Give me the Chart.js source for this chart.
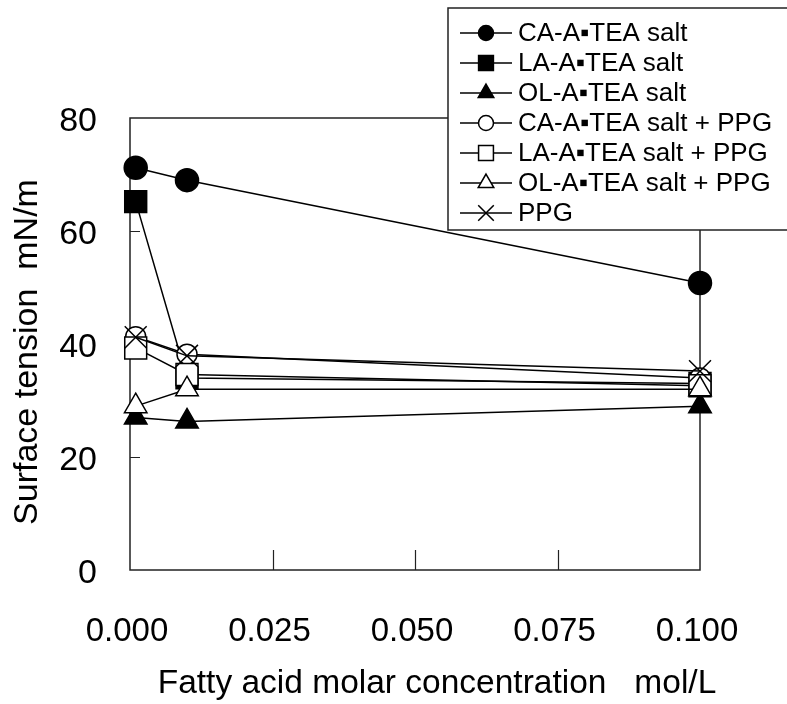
<!DOCTYPE html>
<html lang="en">
<head>
<meta charset="UTF-8">
<title>Surface tension</title>
<script src="https://cdn.jsdelivr.net/npm/chart.js"></script>
<style>
    body { margin: 0; background: #fff; }
    .wrap { width: 787px; height: 704px; }
</style>
</head>
<body>
<div class="wrap"><canvas id="chart" width="787" height="704"></canvas></div>
<script>
// concentration, mol/L
const concentrations = [0.001, 0.01, 0.1];

// surface tension, mN/m
const caSalt = [71.2, 69.0, 50.8];
const laSalt = [65.2, 34.0, 33.0];
const olSalt = [27.0, 26.3, 29.0];
const caSaltPpg = [41.3, 38.2, 34.0];
const laSaltPpg = [39.3, 34.6, 32.6];
const olSaltPpg = [29.0, 32.0, 32.0];
const ppg = [41.2, 37.9, 35.2];

const seriesNames = [
    'CA-A\u25AATEA salt',
    'LA-A\u25AATEA salt',
    'OL-A\u25AATEA salt',
    'CA-A\u25AATEA salt + PPG',
    'LA-A\u25AATEA salt + PPG',
    'OL-A\u25AATEA salt + PPG',
    'PPG'
];

const xTicks = [0, 0.025, 0.05, 0.075, 0.1];
const yTicks = [0, 20, 40, 60, 80];

const xTitle = 'Fatty acid molar concentration   mol/L';
const yTitle = 'Surface tension  mN/m';

const FONT = '"Liberation Sans", Arial, sans-serif';

function series(i, values, style, fill, radius, legendRadius) {
    return {
        label: seriesNames[i],
        data: values.map((v, k) => ({ x: concentrations[k], y: v })),
        borderColor: '#000',
        borderWidth: 1.5,
        tension: 0,
        pointStyle: style,
        pointRadius: radius,
        pointHoverRadius: radius,
        pointBackgroundColor: fill,
        pointBorderColor: '#000',
        pointBorderWidth: 1.5,
        legendRadius: legendRadius,
        clip: false,
        order: 7 - i
    };
}

// box round the plot, short inside tick marks
const frame = {
    id: 'frame',
    beforeDatasetsDraw(chart) {
        const { ctx, chartArea: a, scales: { x, y } } = chart;
        ctx.save();
        ctx.strokeStyle = '#222';
        ctx.lineWidth = 1.5;
        ctx.strokeRect(a.left, a.top, a.right - a.left, a.bottom - a.top);
        ctx.lineWidth = 1.2;
        ctx.beginPath();
        xTicks.slice(1, -1).forEach(v => {
            const px = Math.round(x.getPixelForValue(v)) + 0.5;
            ctx.moveTo(px, a.bottom);
            ctx.lineTo(px, a.bottom - 20);
        });
        yTicks.slice(1, -1).forEach(v => {
            const py = Math.round(y.getPixelForValue(v)) + 0.5;
            ctx.moveTo(a.left, py);
            ctx.lineTo(a.left + 10, py);
        });
        ctx.stroke();
        ctx.restore();
    }
};

// axis titles sit a bit off-centre in the original
const axisTitles = {
    id: 'axisTitles',
    afterDraw(chart) {
        const ctx = chart.ctx;
        ctx.save();
        ctx.fillStyle = '#000';
        ctx.textAlign = 'center';
        ctx.textBaseline = 'middle';
        ctx.font = '33.5px ' + FONT;
        ctx.fillText(xTitle, 437, 684);
        ctx.translate(28, 352);
        ctx.rotate(-Math.PI / 2);
        ctx.font = '34px ' + FONT;
        ctx.fillText(yTitle, 0, 0);
        ctx.restore();
    }
};

// legend box with line-through-marker samples
const boxLegend = {
    id: 'boxLegend',
    afterDraw(chart) {
        const ctx = chart.ctx;
        ctx.save();
        ctx.fillStyle = '#fff';
        ctx.fillRect(448, 8, 360, 222);
        ctx.strokeStyle = '#222';
        ctx.lineWidth = 1.5;
        ctx.strokeRect(448, 8, 360, 222);
        ctx.font = '26px ' + FONT;
        ctx.textBaseline = 'middle';
        chart.data.datasets.forEach((ds, i) => {
            const yy = 33 + i * 30;
            ctx.strokeStyle = '#000';
            ctx.lineWidth = 1.5;
            ctx.beginPath();
            ctx.moveTo(460, yy);
            ctx.lineTo(512, yy);
            ctx.stroke();
            ctx.fillStyle = ds.pointBackgroundColor;
            Chart.helpers.drawPoint(ctx, {
                pointStyle: ds.pointStyle,
                radius: ds.legendRadius,
                borderWidth: 1.5,
                rotation: 0
            }, 486, yy);
            ctx.fillStyle = '#000';
            ctx.fillText(ds.label, 518, yy + 1);
        });
        ctx.restore();
    }
};

new Chart(document.getElementById('chart'), {
    type: 'line',
    data: {
        datasets: [
            series(0, caSalt, 'circle', '#000', 11.5, 7.5),
            series(1, laSalt, 'rect', '#000', 15.5, 10.5),
            series(2, olSalt, 'triangle', '#000', 13, 9),
            series(3, caSaltPpg, 'circle', '#fff', 10, 7.5),
            series(4, laSaltPpg, 'rect', '#fff', 15.5, 10.5),
            series(5, olSaltPpg, 'triangle', '#fff', 13, 9),
            series(6, ppg, 'crossRot', '#fff', 15.5, 11)
        ]
    },
    options: {
        responsive: false,
        animation: false,
        devicePixelRatio: 1,
        layout: { padding: { top: 118, right: 87, left: 0, bottom: 0 } },
        plugins: {
            legend: { display: false },
            tooltip: { enabled: false }
        },
        scales: {
            x: {
                type: 'linear',
                min: 0,
                max: 0.1,
                afterBuildTicks: s => { s.ticks = xTicks.map(v => ({ value: v })); },
                afterFit: s => { s.height = 134; },
                grid: { display: false, drawTicks: false },
                border: { display: false },
                ticks: {
                    color: '#000',
                    font: { family: FONT, size: 33 },
                    padding: 42,
                    labelOffset: -3,
                    maxRotation: 0,
                    callback: v => v.toFixed(3)
                }
            },
            y: {
                min: 0,
                max: 80,
                afterBuildTicks: s => { s.ticks = yTicks.map(v => ({ value: v })); },
                afterFit: s => { s.width = 130; },
                grid: { display: false, drawTicks: false },
                border: { display: false },
                ticks: {
                    color: '#000',
                    font: { family: FONT, size: 34 },
                    padding: 33,
                    labelOffset: 4
                }
            }
        }
    },
    plugins: [frame, axisTitles, boxLegend]
});
</script>
</body>
</html>
